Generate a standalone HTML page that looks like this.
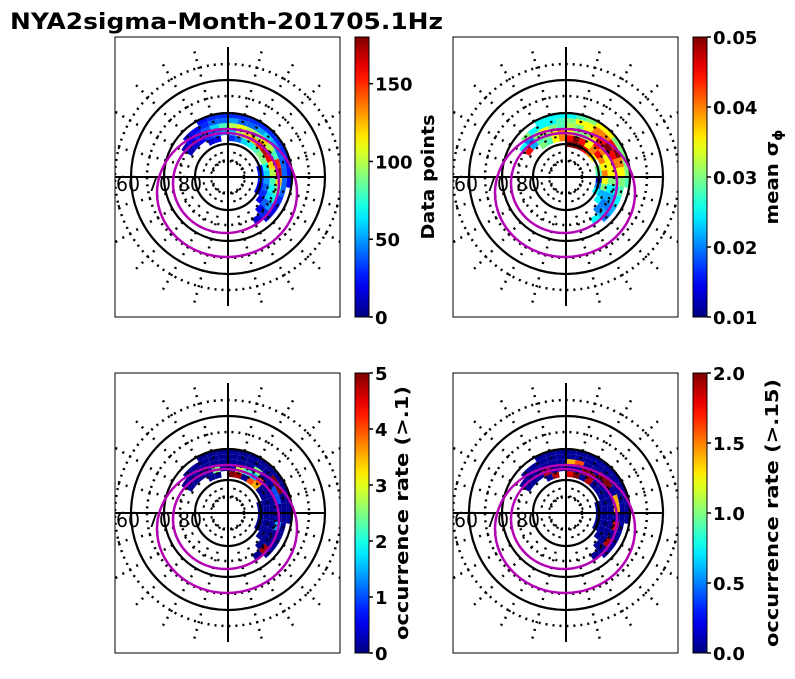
<!DOCTYPE html>
<html><head><meta charset="utf-8"><style>
body{margin:0;background:#fff;}
svg text{font-family:"DejaVu Sans","Liberation Sans",sans-serif;}
</style></head><body>
<svg id="fig" width="795" height="674" viewBox="0 0 795 674" xmlns="http://www.w3.org/2000/svg">
<text x="10" y="29" font-size="22" font-weight="bold" textLength="433" lengthAdjust="spacingAndGlyphs">NYA2sigma-Month-201705.1Hz</text>
</svg>
<script>
const radialEdges=[30,36,42,48,54,59,64];
const angleStart=150, angleStep=-10;
const n=null;
const p1Vals=[
[n,n,n,n,n,n,n,n,n,n,n,n,n,20,30,30,20,20,n,n,n],
[n,n,n,15,20,n,30,40,60,70,80,90,90,70,60,50,40,30,20,n,n],
[10,15,20,30,40,50,60,100,120,130,150,170,160,120,100,80,70,60,40,20,n],
[10,20,30,40,60,80,100,110,100,90,120,100,80,150,170,120,90,70,50,30,15],
[n,15,20,30,40,40,50,40,40,50,60,50,40,40,40,40,40,30,20,15,n],
[n,n,n,25,30,30,30,30,30,30,30,30,30,25,25,20,n,n,n,n,n]];
const p2Vals=[
[n,n,n,n,n,n,0.05,0.05,0.05,0.045,0.04,0.035,n,0.03,0.028,0.012,0.02,0.025,n,n,n],
[n,n,0.03,0.028,0.035,0.04,0.045,0.05,0.045,0.035,0.04,0.045,0.04,0.035,0.04,0.035,0.03,0.022,0.025,n,n],
[0.045,0.022,0.028,0.03,0.035,0.04,0.035,0.03,0.03,0.035,0.045,0.04,0.035,0.035,0.035,0.03,0.025,0.022,0.02,0.02,n],
[0.025,0.02,0.03,0.035,0.03,0.028,0.032,0.03,0.035,0.04,0.045,0.05,0.045,0.04,0.035,0.03,0.025,0.022,0.02,0.022,0.025],
[n,0.03,0.025,0.025,0.025,0.028,0.03,0.035,0.035,0.04,0.04,0.045,0.05,0.04,0.035,0.03,0.028,0.025,0.022,0.02,n],
[n,n,n,0.025,0.025,0.025,0.025,0.028,0.03,0.035,0.035,0.03,0.03,0.03,0.03,0.028,n,n,n,n,n]];
const p3Vals=[
[n,n,n,n,n,n,n,n,n,n,n,n,n,0.1,0.1,0.1,0.1,0.1,n,n,n],
[n,n,n,0.1,0.1,n,5,4.8,0.1,4,3.5,0.1,0.1,0.1,0.1,0.1,0.1,0.1,0.1,n,n],
[0.1,0.1,0.1,0.1,2.5,0.1,0.1,2.8,2.2,1.5,4,0.1,0.1,0.1,0.1,0.1,0.1,0.1,0.1,0.1,n],
[0.1,0.1,0.1,0.1,0.1,0.1,0.1,0.1,0.1,2.5,0.1,0.1,1,1,0.1,0.1,1.5,0.1,0.1,4.8,0.1],
[n,0.1,0.1,0.1,0.1,0.1,0.1,0.1,0.1,0.1,0.1,5,5,0.1,0.1,0.1,0.1,0.1,0.1,0.1,n],
[n,n,n,0.1,0.1,0.1,0.1,0.1,0.1,0.1,0.1,0.1,0.1,0.1,0.1,0.1,n,n,n,n,n]];
const p4Vals=[
[n,n,n,n,n,n,n,n,n,n,n,n,n,0.05,0.05,0.05,0.05,0.05,n,n,n],
[n,n,n,0.05,1.9,n,1.8,2,0.05,1.9,0.05,0.05,0.05,0.05,0.05,0.05,0.05,0.05,0.05,n,n],
[0.05,0.05,0.05,1.9,0.05,0.05,0.05,0.05,2,2,0.05,0.05,0.05,0.05,0.05,0.05,0.05,0.05,0.05,0.05,n],
[0.05,0.05,0.05,0.05,0.05,0.05,1.4,1.6,0.05,0.05,2,2,0.05,1.4,1.4,0.05,1.8,0.05,1.9,0.05,0.05],
[n,0.05,0.05,0.05,0.05,0.05,0.05,0.05,0.05,0.05,0.05,0.05,0.05,0.05,0.05,0.05,0.05,0.05,0.05,0.05,n],
[n,n,n,0.05,0.05,0.05,0.05,0.05,0.05,0.05,0.05,0.05,0.05,0.05,0.05,0.05,n,n,n,n,n]];
const p1Ticks=[0,50,100,150], p2Ticks=[0.01,0.02,0.03,0.04,0.05], p3Ticks=[0,1,2,3,4,5], p4Ticks=[0.0,0.5,1.0,1.5,2.0];
const p1TickLabels=["0","50","100","150"], p2TickLabels=["0.01","0.02","0.03","0.04","0.05"], p3TickLabels=["0","1","2","3","4","5"], p4TickLabels=["0.0","0.5","1.0","1.5","2.0"];
const latLabels=["60","70","80"];

const NS="http://www.w3.org/2000/svg";
const svg=document.getElementById('fig');
function mk(tag,attrs,parent){const e=document.createElementNS(NS,tag);for(const k in attrs)e.setAttribute(k,attrs[k]);(parent||svg).appendChild(e);return e;}
function jet(t){t=Math.max(0,Math.min(1,t));
 const r=Math.max(0,Math.min(1,1.5-Math.abs(4*t-3))),g=Math.max(0,Math.min(1,1.5-Math.abs(4*t-2))),b=Math.max(0,Math.min(1,1.5-Math.abs(4*t-1)));
 return `rgb(${Math.round(r*255)},${Math.round(g*255)},${Math.round(b*255)})`;}
function pol(cx,cy,r,deg){const a=deg*Math.PI/180;return [cx+r*Math.cos(a),cy-r*Math.sin(a)];}

const panels=[
 {x:115,y:37,vals:p1Vals,min:0,max:180,ticks:p1Ticks,labels:p1TickLabels,title:"Data points",tx:428,tl:125,name:"data-points"},
 {x:453,y:37,vals:p2Vals,min:0.01,max:0.05,ticks:p2Ticks,labels:p2TickLabels,title:"mean σ",sub:"ϕ",tx:772,tl:95,name:"mean-sigma"},
 {x:115,y:373,vals:p3Vals,min:0,max:5,ticks:p3Ticks,labels:p3TickLabels,title:"occurrence rate (>.1)",tx:402,tl:254,name:"occurrence-01"},
 {x:453,y:373,vals:p4Vals,min:0,max:2,ticks:p4Ticks,labels:p4TickLabels,title:"occurrence rate (>.15)",tx:772,tl:268,name:"occurrence-015"}];

const defs=mk('defs',{});
const grad=mk('linearGradient',{id:'jetg',x1:0,y1:1,x2:0,y2:0},defs);
for(let i=0;i<=20;i++){mk('stop',{offset:i/20,'stop-color':jet(i/20)},grad);}

panels.forEach((p,pi)=>{
 const W=225,H=280,cx=p.x+113,cy=p.y+140;
 const cp=mk('clipPath',{id:'clip'+pi},defs);mk('rect',{x:p.x,y:p.y,width:W,height:H},cp);
 const g=mk('g',{'clip-path':`url(#clip${pi})`});
 
 
 p.vals.forEach((row,ri)=>{row.forEach((v,ai)=>{ if(v===null)return;
   const r0=radialEdges[ri],r1=radialEdges[ri+1],a0=angleStart+ai*angleStep,a1=a0+angleStep;
   const A=pol(cx,cy,r0,a0),B=pol(cx,cy,r1,a0),C=pol(cx,cy,r1,a1),D=pol(cx,cy,r0,a1);
   const c=mk('path',{d:`M${A}L${B}A${r1},${r1} 0 0 1 ${C}L${D}A${r0},${r0} 0 0 0 ${A}Z`,fill:jet((v-p.min)/(p.max-p.min)),stroke:'none'},g);
   
   
 });});
 [16,48,81,113].forEach(r=>{const e=mk('circle',{cx,cy,r,fill:'none',stroke:'#000','stroke-width':2.5,'stroke-dasharray':'2 5'},g);
   });
 for(let a=0;a<360;a+=15){if(a%90===0)continue;const s=pol(cx,cy,16,a),t=pol(cx,cy,135,a);
   const e=mk('line',{x1:s[0],y1:s[1],x2:t[0],y2:t[1],stroke:'#000','stroke-width':2.5,'stroke-dasharray':'2 6'},g);
   }
 [33,64,97].forEach(r=>{const e=mk('circle',{cx,cy,r,fill:'none',stroke:'#000','stroke-width':2.2},g);
   });
 let e=mk('line',{x1:cx,y1:cy-130,x2:cx,y2:cy+129,stroke:'#000','stroke-width':2},g);
 
 e=mk('line',{x1:p.x,y1:cy,x2:cx+97,y2:cy,stroke:'#000','stroke-width':2},g);
 
 e=mk('ellipse',{cx:cx-1,cy:cy+16,rx:70,ry:64,fill:'none',stroke:'#b400b4','stroke-width':2.5},g);
 
 e=mk('ellipse',{cx:cx-2,cy:cy+6,rx:53,ry:50,fill:'none',stroke:'#b400b4','stroke-width':2.5},g);
 
 latLabels.forEach((l,i)=>{const t=mk('text',{x:p.x+1+i*31,y:cy+14,'font-size':20,textLength:24,lengthAdjust:'spacingAndGlyphs'},g);t.textContent=l;
   });
 e=mk('rect',{x:p.x,y:p.y,width:W,height:H,fill:'none',stroke:'#000','stroke-width':1});
 
 const bx=p.x+240,bw=14;
 const cb=mk('g',{});
 
 
 mk('rect',{x:bx,y:p.y,width:bw,height:H,fill:'url(#jetg)',stroke:'#000','stroke-width':1},cb);
 const ys=v=>p.y+H-(v-p.min)/(p.max-p.min)*H;
 p.ticks.forEach((v,i)=>{const y=ys(v);mk('line',{x1:bx+bw,y1:y,x2:bx+bw+4,y2:y,stroke:'#000','stroke-width':1.5},cb);
   const t=mk('text',{x:bx+bw+6,y:y+7,'font-size':18,'font-weight':'bold'},cb);t.textContent=p.labels[i];
   });
 const t=mk('text',{x:p.tx,y:cy,'font-size':18,'font-weight':'bold','text-anchor':'middle',transform:`rotate(-90 ${p.tx} ${cy})`,dy:6,textLength:p.tl,lengthAdjust:'spacingAndGlyphs'},cb);
 t.textContent=p.title;
 if(p.sub){const s=mk('tspan',{'font-size':13,dy:4},t);s.textContent=p.sub;}
 
});
</script>
</body></html>
